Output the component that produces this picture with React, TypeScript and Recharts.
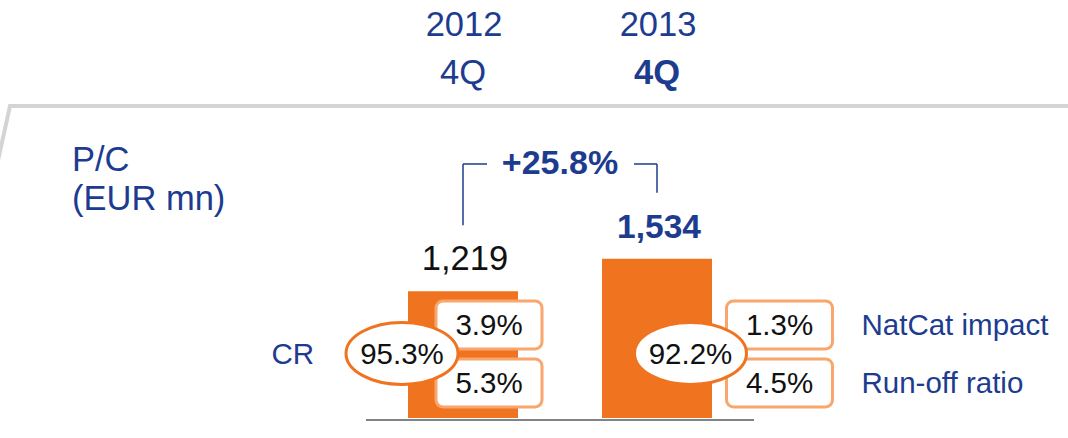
import React from 'react';
import { BarChart, Bar, XAxis, YAxis, LabelList, ReferenceLine } from 'recharts';

// ---------- data ----------
const categories = ['2012 4Q', '2013 4Q'];
const years = ['2012', '2013'];
const quarters = ['4Q', '4Q'];
const pcValues = [1219, 1534];
const crValues = [95.3, 92.2];
const natCatValues = [3.9, 1.3];
const runOffValues = [5.3, 4.5];
const unitLines = ['P/C', '(EUR mn)'];
const crLabel = 'CR';
const natCatLabel = 'NatCat impact';
const runOffLabel = 'Run-off ratio';

const data = categories.map((c, i) => ({
  category: c,
  pc: pcValues[i],
  cr: crValues[i],
  natCat: natCatValues[i],
  runOff: runOffValues[i],
}));

const growth = (pcValues[pcValues.length - 1] / pcValues[0] - 1) * 100;
const growthLabel = `+${growth.toFixed(1)}%`;

// ---------- style / layout ----------
const W = 1068;
const H = 438;
const FONT = '"Liberation Sans", Arial, Helvetica, sans-serif';
const BLUE = '#1d3c8f';
const ORANGE = '#f07320';
const LIGHT_ORANGE = '#f8a66c';
const BLACK = '#111111';
const Y_DOMAIN: [number, number] = [-20, 2600];
const BRACKET_CLEAR = 636; // value units between bar label and bracket end
const BRACKET_TOP = Math.max(...pcValues) + 912;
const ANN_FONT = 29.5;

const annotLayout = [
  { ellipseDx: -61, boxDx: -27 },
  { ellipseDx: 33.5, boxDx: 69.5 },
];
const BOX_W = 106;
const BOX_H = 48;

const fmtPct = (v: number) => `${v.toFixed(1)}%`;

const HeaderTick = (props: any) => {
  const { x, payload } = props;
  const i = categories.indexOf(payload.value);
  const last = i === categories.length - 1;
  return (
    <g>
      <text x={x + 1} y={36} textAnchor="middle" fontFamily={FONT} fontSize={34.5} fill={BLUE}>
        {years[i]}
      </text>
      <text
        x={x}
        y={84}
        textAnchor="middle"
        fontFamily={FONT}
        fontSize={34.5}
        fontWeight={last ? 700 : 400}
        fill={BLUE}
      >
        {quarters[i]}
      </text>
    </g>
  );
};

const Annotations = (props: any) => {
  const vb = props.viewBox ?? props;
  const { x, y, width, height } = vb;
  const i: number = props.index;
  if (x == null || i == null) return null;
  const last = i === categories.length - 1;
  const cx = x + width / 2;
  const base = y + height;
  const lay = annotLayout[i];
  const ex = cx + lay.ellipseDx;
  const ey = base - 64.5;
  const bx = cx + lay.boxDx;
  const upTop = base - 117;
  const lowTop = base - 59;
  return (
    <g fontFamily={FONT}>
      <text
        x={cx + 2}
        y={y - 21}
        textAnchor="middle"
        fontSize={last ? 33.5 : 34.5}
        fontWeight={last ? 700 : 400}
        fill={last ? BLUE : BLACK}
      >
        {pcValues[i].toLocaleString('en-US')}
      </text>
      <rect x={bx} y={upTop} width={BOX_W} height={BOX_H} rx={7} fill="#fff" stroke={LIGHT_ORANGE} strokeWidth={3} />
      <text x={bx + BOX_W / 2} y={upTop + BOX_H / 2 + 10.5} textAnchor="middle" fontSize={ANN_FONT} fill={BLACK}>
        {fmtPct(natCatValues[i])}
      </text>
      <rect x={bx} y={lowTop} width={BOX_W} height={BOX_H} rx={7} fill="#fff" stroke={LIGHT_ORANGE} strokeWidth={3} />
      <text x={bx + BOX_W / 2} y={lowTop + BOX_H / 2 + 10.5} textAnchor="middle" fontSize={ANN_FONT} fill={BLACK}>
        {fmtPct(runOffValues[i])}
      </text>
      <ellipse cx={ex} cy={ey} rx={56} ry={31} fill="#fff" stroke={ORANGE} strokeWidth={3} />
      <text x={ex} y={ey + 10.5} textAnchor="middle" fontSize={ANN_FONT} fill={BLACK}>
        {fmtPct(crValues[i])}
      </text>
      {i === 0 && (
        <text x={ex - 88} y={ey + 10.5} textAnchor="end" fontSize={ANN_FONT} fill={BLUE}>
          {crLabel}
        </text>
      )}
      {last && (
        <>
          <text x={bx + BOX_W + 29} y={upTop + BOX_H / 2 + 10.5} fontSize={ANN_FONT} fill={BLUE}>
            {natCatLabel}
          </text>
          <text x={bx + BOX_W + 29} y={lowTop + BOX_H / 2 + 10.5} fontSize={ANN_FONT} fill={BLUE}>
            {runOffLabel}
          </text>
        </>
      )}
    </g>
  );
};

const BracketTop = (props: any) => {
  const { x1, y1, x2 } = props;
  return (
    <g>
      <line x1={x1} y1={y1} x2={x1 + 24} y2={y1} stroke={BLUE} strokeWidth={1.5} />
      <line x1={x2 - 23} y1={y1} x2={x2} y2={y1} stroke={BLUE} strokeWidth={1.5} />
      <text
        x={(x1 + x2) / 2}
        y={y1 + 10}
        textAnchor="middle"
        fontFamily={FONT}
        fontSize={34}
        fontWeight={700}
        fill={BLUE}
      >
        {growthLabel}
      </text>
    </g>
  );
};

export default function App() {
  return (
    <div style={{ position: 'absolute', left: 0, top: 0, width: W, height: H, background: '#fff' }}>
      <svg width={W} height={H} style={{ position: 'absolute', left: 0, top: 0 }}>
        <polyline points="-3,165 10,106 1068,106" fill="none" stroke="#d4d4d4" strokeWidth={4} />
        <text x={72} y={171} fontFamily={FONT} fontSize={34.5} fill={BLUE}>
          {unitLines[0]}
        </text>
        <text x={72} y={210} fontFamily={FONT} fontSize={34.5} fill={BLUE}>
          {unitLines[1]}
        </text>
      </svg>
      <div style={{ position: 'absolute', left: 0, top: 0 }}>
        <BarChart
          width={W}
          height={H}
          data={data}
          margin={{ top: 148, right: 314, bottom: 17, left: 366 }}
        >
          <XAxis
            dataKey="category"
            height={1}
            interval={0}
            tickLine={false}
            axisLine={{ stroke: '#5a5a5a', strokeWidth: 1.5 }}
            tick={HeaderTick}
          />
          <YAxis hide type="number" domain={Y_DOMAIN} />
          <Bar dataKey="pc" fill={ORANGE} barSize={110} isAnimationActive={false}>
            <LabelList dataKey="pc" content={Annotations} />
          </Bar>
          <ReferenceLine
            segment={[
              { x: categories[0], y: pcValues[0] + BRACKET_CLEAR },
              { x: categories[0], y: BRACKET_TOP },
            ]}
            stroke={BLUE}
            strokeWidth={1.5}
          />
          <ReferenceLine
            segment={[
              { x: categories[1], y: pcValues[1] + BRACKET_CLEAR },
              { x: categories[1], y: BRACKET_TOP },
            ]}
            stroke={BLUE}
            strokeWidth={1.5}
          />
          <ReferenceLine
            segment={[
              { x: categories[0], y: BRACKET_TOP },
              { x: categories[1], y: BRACKET_TOP },
            ]}
            shape={BracketTop}
          />
        </BarChart>
      </div>
    </div>
  );
}
